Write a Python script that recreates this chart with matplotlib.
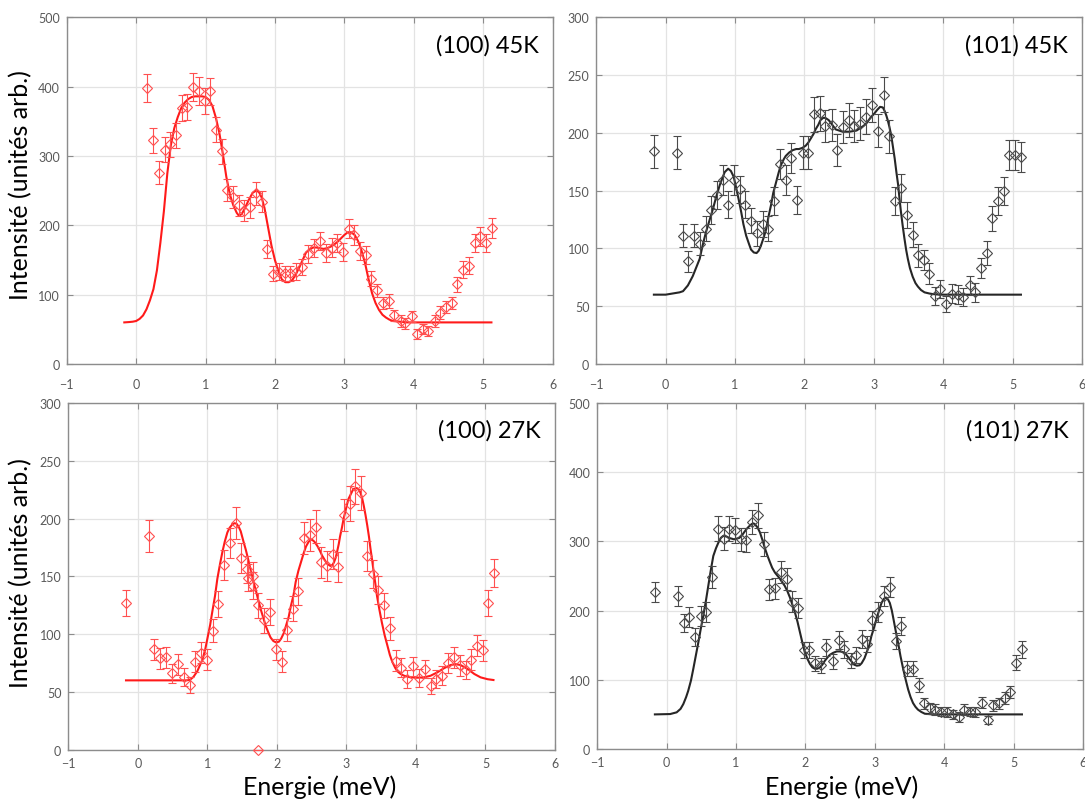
import matplotlib
matplotlib.use("Agg")
import matplotlib.pyplot as plt
import numpy as np

plt.rcParams['font.family'] = ['Lato', 'DejaVu Sans']

# ---------------- data: (100) 45K ----------------
e_100_45 = [0.16, 0.245, 0.33, 0.41, 0.495, 0.58, 0.66, 0.74, 0.82, 0.91, 0.99, 1.07,
            1.155, 1.235, 1.315, 1.40, 1.48, 1.56, 1.645, 1.73, 1.81, 1.89, 1.975, 2.06,
            2.14, 2.22, 2.31, 2.39, 2.47, 2.57, 2.65, 2.74, 2.82, 2.90, 2.98, 3.07, 3.14,
            3.23, 3.31, 3.39, 3.47, 3.56, 3.64, 3.72, 3.81, 3.88, 3.97, 4.05, 4.13, 4.21,
            4.30, 4.38, 4.46, 4.55, 4.63, 4.71, 4.79, 4.88, 4.96, 5.04, 5.13]
i_100_45 = [398, 323, 276, 309, 317, 330, 369, 371, 400, 394, 379, 393,
            338, 307, 251, 241, 229, 221, 226, 246, 234, 166, 130, 133,
            131, 131, 133, 140, 158, 167, 178, 160, 168, 174, 161, 195, 186,
            163, 157, 123, 106, 88, 91, 70, 62, 59, 69, 43, 50, 48,
            62, 74, 82, 88, 115, 136, 142, 175, 184, 175, 196]
d_100_45 = [20, 18, 17, 18, 18, 18, 19, 19, 20, 20, 19, 20,
            18, 18, 16, 16, 15, 15, 15, 16, 15, 13, 11, 12,
            11, 11, 12, 12, 13, 13, 13, 13, 13, 13, 13, 14, 14,
            13, 13, 11, 10, 9, 10, 8, 8, 8, 8, 7, 7, 7,
            8, 9, 9, 9, 11, 12, 12, 13, 14, 13, 14]
fe_100_45 = [-0.17, -0.1, -0.05, 0.0, 0.05, 0.1, 0.15, 0.2, 0.25, 0.3, 0.35, 0.4, 0.45,
             0.5, 0.55, 0.6, 0.65, 0.7, 0.75, 0.8, 0.85, 0.9, 0.95, 1.0, 1.05, 1.1, 1.15,
             1.2, 1.25, 1.3, 1.35, 1.4, 1.45, 1.48, 1.52, 1.56, 1.62, 1.68, 1.73, 1.77,
             1.81, 1.85, 1.9, 1.95, 2.0, 2.05, 2.1, 2.15, 2.2, 2.25, 2.3, 2.35, 2.4, 2.45,
             2.5, 2.55, 2.6, 2.65, 2.7, 2.75, 2.8, 2.85, 2.9, 2.95, 3.0, 3.05, 3.1, 3.15,
             3.2, 3.25, 3.3, 3.35, 3.4, 3.45, 3.5, 3.55, 3.6, 3.65, 3.7, 3.8, 3.9, 5.12]
fi_100_45 = [60, 60.5, 61, 62, 65, 70, 79, 92, 108, 135, 175, 220, 275,
             315, 340, 356, 369, 377, 382, 385, 386, 386, 386, 385, 381, 372, 355,
             333, 303, 270, 245, 229, 218, 214, 216, 223, 236, 247, 250, 248,
             240, 225, 198, 171, 150, 134, 122, 118, 118, 121, 129, 139, 150, 161,
             165, 168, 168, 167, 166, 167, 169, 172, 176, 181, 186, 190, 190, 186,
             177, 163, 145, 122, 102, 88, 78, 71, 67, 64, 62, 61, 60, 60]

# ---------------- data: (101) 45K ----------------
e_101_45 = [-0.167, 0.163, 0.244, 0.325, 0.41, 0.493, 0.574, 0.655, 0.737, 0.823, 0.904,
            0.986, 1.067, 1.148, 1.234, 1.316, 1.397, 1.478, 1.56, 1.646, 1.727, 1.809,
            1.895, 1.976, 2.057, 2.14, 2.22, 2.30, 2.39, 2.47, 2.553, 2.64, 2.72, 2.80,
            2.89, 2.97, 3.058, 3.14, 3.22, 3.31, 3.39, 3.476, 3.56, 3.635, 3.72, 3.79,
            3.88, 3.96, 4.04, 4.13, 4.21, 4.29, 4.38, 4.46, 4.54, 4.625, 4.71, 4.79,
            4.87, 4.95, 5.03, 5.12]
i_101_45 = [184, 183, 111, 89, 111, 104, 117, 133, 146, 159, 138,
            159, 151, 138, 124, 113, 121, 117, 141, 173, 159, 178,
            142, 183, 183, 216, 217, 206, 207, 185, 205, 211, 206, 208,
            214, 224, 202, 233, 197, 141, 152, 129, 112, 94, 90, 78,
            59, 65, 52, 61, 60, 58, 68, 62, 83, 96, 126, 141,
            150, 181, 181, 179]
d_101_45 = [14, 14, 10, 9, 10, 10, 11, 12, 12, 13, 12,
            13, 12, 12, 11, 11, 11, 11, 12, 13, 13, 13,
            12, 14, 14, 15, 15, 14, 14, 14, 14, 15, 14, 14,
            15, 15, 14, 15, 14, 12, 12, 11, 11, 10, 9, 9,
            8, 8, 7, 8, 8, 8, 8, 8, 9, 10, 11, 12,
            12, 13, 13, 13]
fe_101_45 = [-0.17, 0.0, 0.1, 0.2, 0.25, 0.32, 0.39, 0.45, 0.49, 0.53, 0.58, 0.63, 0.68,
             0.73, 0.78, 0.85, 0.9, 0.94, 0.98, 1.01, 1.05, 1.09, 1.12, 1.16, 1.2, 1.23,
             1.27, 1.31, 1.34, 1.37, 1.41, 1.45, 1.48, 1.52, 1.55, 1.59, 1.63, 1.66, 1.7,
             1.73, 1.78, 1.83, 1.88, 1.92, 1.97, 2.02, 2.06, 2.09, 2.13, 2.16, 2.2, 2.23,
             2.27, 2.3, 2.35, 2.4, 2.45, 2.5, 2.55, 2.6, 2.65, 2.7, 2.75, 2.8, 2.85, 2.89,
             2.95, 3.01, 3.05, 3.09, 3.13, 3.155, 3.18, 3.2, 3.225, 3.25, 3.275, 3.3, 3.325,
             3.35, 3.37, 3.39, 3.415, 3.44, 3.465, 3.49, 3.52, 3.56, 3.6, 3.635, 3.68, 3.73,
             3.8, 3.85, 3.95, 5.12]
fi_101_45 = [60, 60, 61, 62, 63, 68, 76, 85, 91, 102, 114, 124, 134,
             145, 155, 166, 169, 167, 162, 154, 143, 131, 121, 111, 104, 99,
             96.5, 96, 98, 102, 109, 117, 127, 138, 148, 157, 166, 172, 177,
             180, 183, 185, 186, 186, 187, 189, 192, 195, 199, 203, 207, 211,
             213, 213, 211, 207, 203, 202, 201, 201, 201, 201.5, 202, 204, 206, 208,
             213, 217, 220, 222.5, 222, 219, 215, 211, 205, 198, 188, 178, 166,
             155, 143, 132, 120, 109, 99, 91, 83, 75.5, 70, 67, 64, 62,
             61, 60.5, 60, 60]

# ---------------- data: (100) 27K ----------------
e_100_27 = [-0.168, 0.163, 0.235, 0.32, 0.41, 0.49, 0.58, 0.66, 0.745, 0.827, 0.91, 0.995,
            1.075, 1.16, 1.24, 1.325, 1.41, 1.485, 1.57, 1.58, 1.655, 1.66, 1.735, 1.815,
            1.90, 1.985, 2.07, 2.15, 2.23, 2.31, 2.39, 2.47, 2.56, 2.64, 2.72, 2.80, 2.885,
            2.966, 3.05, 3.13, 3.216, 3.30, 3.38, 3.45, 3.54, 3.625, 3.707, 3.79, 3.875,
            3.96, 4.05, 4.125, 4.21, 4.29, 4.38, 4.46, 4.55, 4.63, 4.716, 4.79, 4.875,
            4.96, 5.04, 5.125, 1.735]
i_100_27 = [127, 185, 87, 79, 80, 66, 74, 63, 56, 76, 84, 78,
            103, 126, 160, 179, 196, 166, 156, 149, 150, 142, 125, 112,
            119, 87, 76, 104, 122, 137, 183, 186, 193, 162, 159, 169, 158,
            203, 213, 228, 222, 168, 152, 138, 125, 105, 77, 71, 61,
            72, 62, 70, 55, 61, 64, 75, 80, 73, 69, 78, 90,
            86, 127, 153, 0]
d_100_27 = [11, 14, 9, 9, 9, 8, 9, 8, 7, 9, 9, 9,
            10, 11, 13, 13, 14, 13, 12, 12, 12, 12, 11, 11,
            11, 9, 9, 10, 11, 12, 14, 14, 14, 13, 13, 13, 13,
            14, 15, 15, 15, 13, 12, 12, 11, 10, 9, 8, 8,
            8, 8, 8, 7, 8, 8, 9, 9, 9, 8, 9, 9,
            9, 11, 12, 0]
fe_100_27 = [-0.17, 0.7, 0.75, 0.8, 0.856, 0.9, 0.93, 0.97, 1.0, 1.04, 1.07, 1.11, 1.144,
             1.18, 1.216, 1.25, 1.288, 1.32, 1.36, 1.39, 1.42, 1.45, 1.48, 1.52, 1.553,
             1.59, 1.625, 1.66, 1.697, 1.73, 1.77, 1.81, 1.84, 1.88, 1.91, 1.95, 1.99,
             2.03, 2.06, 2.1, 2.13, 2.17, 2.2, 2.24, 2.27, 2.31, 2.35, 2.385, 2.42, 2.457,
             2.5, 2.54, 2.58, 2.62, 2.65, 2.69, 2.72, 2.77, 2.8, 2.82, 2.845, 2.865, 2.89,
             2.91, 2.935, 2.96, 3.0, 3.03, 3.07, 3.1, 3.15, 3.18, 3.2, 3.225, 3.25, 3.275,
             3.3, 3.325, 3.346, 3.37, 3.394, 3.42, 3.44, 3.475, 3.51, 3.55, 3.59, 3.625,
             3.66, 3.7, 3.73, 3.78, 3.83, 3.92, 4.02, 4.115, 4.21, 4.31, 4.4, 4.5, 4.57,
             4.64, 4.74, 4.84, 4.93, 5.03, 5.115]
fi_100_27 = [60, 60, 60.5, 63, 68, 74, 78, 87, 96, 108, 119, 133, 148,
             160, 171, 180, 188, 192, 195, 196, 195.5, 193, 189, 180, 173,
             164, 155, 146, 138, 130, 121, 113, 107, 101, 97, 94, 92.8,
             93.5, 96, 101, 107, 115, 124, 134, 145, 155, 163, 170, 176, 180,
             182, 180, 176.5, 172, 168, 164, 161, 159, 160, 162, 166, 171, 178,
             185, 192, 200, 210, 217, 222, 225.6, 226.4, 225, 222.7, 218, 211, 203,
             194, 184, 174, 164, 153, 142, 133, 121, 110, 99, 90, 82,
             76, 71, 68, 65.5, 64, 62.6, 62.3, 62.6, 64, 67, 70.4, 73.3, 74,
             73.3, 70, 65.5, 62.6, 61, 60.3]

# ---------------- data: (101) 27K ----------------
e_101_27 = [-0.167, 0.163, 0.244, 0.325, 0.41, 0.49, 0.566, 0.655, 0.737, 0.823, 0.904,
            0.986, 1.067, 1.148, 1.234, 1.316, 1.397, 1.478, 1.56, 1.646, 1.727, 1.809,
            1.895, 1.976, 2.057, 2.14, 2.228, 2.30, 2.39, 2.48, 2.55, 2.65, 2.727, 2.81,
            2.89, 2.96, 3.05, 3.134, 3.216, 3.30, 3.384, 3.465, 3.55, 3.633, 3.71, 3.79,
            3.87, 3.96, 4.04, 4.127, 4.21, 4.29, 4.37, 4.45, 4.54, 4.63, 4.71, 4.79,
            4.875, 4.95, 5.04, 5.12]
i_101_27 = [227, 221, 182, 191, 162, 192, 198, 249, 318, 304, 318,
            316, 303, 302, 328, 338, 296, 231, 232, 256, 246, 213,
            204, 143, 143, 124, 121, 147, 127, 158, 144, 128, 136, 159,
            152, 186, 198, 221, 234, 156, 178, 116, 116, 93, 66, 59,
            57, 54, 53, 50, 46, 57, 54, 53, 67, 42, 63, 66,
            74, 82, 125, 144]
d_101_27 = [15, 15, 13, 14, 13, 14, 14, 16, 18, 17, 18,
            18, 17, 17, 18, 18, 17, 15, 15, 16, 16, 15,
            14, 12, 12, 11, 11, 12, 11, 13, 12, 11, 12, 13,
            12, 14, 14, 15, 15, 12, 13, 11, 11, 10, 8, 8,
            8, 7, 7, 7, 7, 8, 7, 7, 8, 6, 8, 8,
            9, 9, 11, 12]
fe_101_27 = [-0.17, 0.05, 0.144, 0.2, 0.24, 0.28, 0.31, 0.35, 0.384, 0.42, 0.456, 0.49,
             0.528, 0.565, 0.6, 0.635, 0.672, 0.71, 0.744, 0.78, 0.816, 0.864, 0.9, 0.936,
             0.97, 1.008, 1.045, 1.08, 1.115, 1.152, 1.19, 1.224, 1.25, 1.27, 1.31, 1.344,
             1.38, 1.416, 1.45, 1.488, 1.52, 1.56, 1.6, 1.632, 1.665, 1.7, 1.74, 1.776,
             1.81, 1.848, 1.885, 1.92, 1.955, 1.99, 2.03, 2.064, 2.1, 2.136, 2.17, 2.21,
             2.245, 2.28, 2.315, 2.35, 2.4, 2.45, 2.5, 2.54, 2.57, 2.62, 2.66, 2.7, 2.74,
             2.78, 2.81, 2.85, 2.88, 2.92, 2.95, 2.99, 3.02, 3.06, 3.096, 3.13, 3.16, 3.19,
             3.216, 3.245, 3.27, 3.3, 3.336, 3.37, 3.41, 3.445, 3.48, 3.515, 3.55, 3.585,
             3.62, 3.67, 3.72, 3.84, 5.12]
fi_101_27 = [50, 50.5, 53, 58, 65, 75, 84, 99, 116, 135, 154, 173,
             193, 214, 236, 258, 279, 290, 298, 305, 308, 307, 305, 304,
             303, 304, 305, 308, 313, 318, 322, 325, 326, 325, 320, 313,
             302, 290, 280, 270, 262, 255, 250, 246, 241, 236, 228, 219,
             209, 197.5, 184, 169, 154, 140, 130, 123, 118, 116, 116, 118,
             122, 127.6, 132, 136, 139, 141, 141, 140, 138.7, 132, 127, 122, 120.4,
             121, 124, 131, 139, 150, 163, 176, 187, 200, 211, 217, 219, 216,
             211, 200, 187, 171, 153, 134, 115, 100, 86, 75, 66.5, 61,
             57, 53.5, 51, 50, 50]

x_ticks = [-1, 0, 1, 2, 3, 4, 5, 6]

W, H = 1085, 803
fig = plt.figure(figsize=(W / 100, H / 100), dpi=100)
fig.patch.set_facecolor('white')


def rect(l, t, r, b):
    return [l / W, 1 - b / H, (r - l) / W, (b - t) / H]


RED_PT = '#ff5050'
RED_LN = '#ff1a1a'
BLK_PT = '#4a4a4a'
BLK_LN = '#262626'
GRAY_TXT = '#595959'

panels = [
    (rect(66.7, 18.3, 552.5, 365), e_100_45, i_100_45, d_100_45, fe_100_45, fi_100_45,
     RED_PT, RED_LN, (0, 500), 100, '(100) 45K', 10),
    (rect(596.3, 18.3, 1082, 365), e_101_45, i_101_45, d_101_45, fe_101_45, fi_101_45,
     BLK_PT, BLK_LN, (0, 300), 50, '(101) 45K', 10),
    (rect(68.3, 404, 555, 750.7), e_100_27, i_100_27, d_100_27, fe_100_27, fi_100_27,
     RED_PT, RED_LN, (0, 300), 50, '(100) 27K', 5),
    (rect(597.3, 404, 1083, 750), e_101_27, i_101_27, d_101_27, fe_101_27, fi_101_27,
     BLK_PT, BLK_LN, (0, 500), 100, '(101) 27K', 5),
]

for (r, ex, iy, di, fx, fy, cpt, cln, ylim, ystep, label, xpad) in panels:
    ax = fig.add_axes(r)
    ax.set_xlim(-1, 6)
    ax.set_ylim(*ylim)
    ax.set_xticks(x_ticks)
    ax.set_yticks(np.arange(ylim[0], ylim[1] + 1, ystep))
    ax.grid(True, color='#e3e3e3', linewidth=0.9, zorder=0)
    ax.set_axisbelow(True)
    for sp in ax.spines.values():
        sp.set_color('#8c8c8c')
        sp.set_linewidth(1.0)
    ax.tick_params(direction='in', length=4, width=0.8, color='#8c8c8c',
                   top=True, right=True, labelsize=9, labelcolor=GRAY_TXT)
    ax.tick_params(axis='x', pad=xpad)
    ax.tick_params(axis='y', pad=5)
    ax.plot(fx, fy, color=cln, linewidth=1.5, zorder=3)
    cont = ax.errorbar(ex, iy, yerr=di, fmt='D', markersize=5.2, markerfacecolor='none',
                       markeredgecolor=cpt, markeredgewidth=0.8, ecolor=cpt,
                       elinewidth=0.8, capsize=3.2, capthick=0.8, zorder=4)
    for art in [cont.lines[0]] + list(cont.lines[1]) + list(cont.lines[2]):
        art.set_clip_on(False)
    ax.text(0.971, 0.922, label, transform=ax.transAxes, ha='right', va='center',
            fontsize=17, color='black')

fig.text(21 / W, 1 - 185 / H, 'Intensité (unités arb.)', rotation=90,
         ha='center', va='center', fontsize=18)
fig.text(21 / W, 1 - 573 / H, 'Intensité (unités arb.)', rotation=90,
         ha='center', va='center', fontsize=18)
fig.text(320 / W, 1 - 787 / H, 'Energie (meV)', ha='center', va='center', fontsize=18)
fig.text(842 / W, 1 - 787 / H, 'Energie (meV)', ha='center', va='center', fontsize=18)

fig.savefig('out.png', dpi=100, facecolor='white')
